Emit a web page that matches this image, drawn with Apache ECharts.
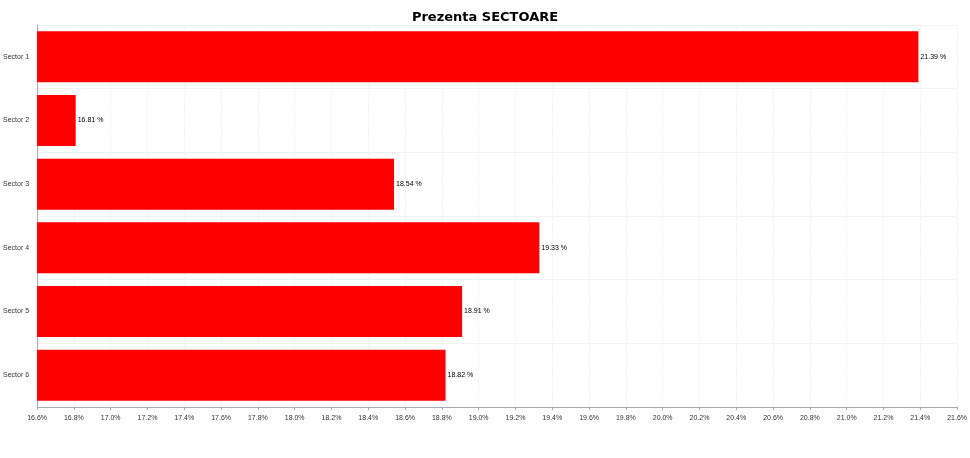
<!DOCTYPE html><html><head><meta charset="utf-8"><script src="https://cdn.jsdelivr.net/npm/echarts@6/dist/echarts.min.js"></script></head><body style="margin:0"><div id="c" style="width:970px;height:458px"></div><script>
const categories=["Sector 1","Sector 2","Sector 3","Sector 4","Sector 5","Sector 6"];
const values=[21.39,16.81,18.54,19.33,18.91,18.82];
const ch=echarts.init(document.getElementById('c'));
ch.setOption({animation:false,
title:{text:'Prezenta SECTOARE',left:'center',top:6,textStyle:{fontSize:13,fontWeight:'bold',color:'#000',fontFamily:'DejaVu Sans'}},
grid:{left:32,right:11,top:25,bottom:51},
xAxis:{type:'value',min:16.6,max:21.6,interval:0.2,axisLabel:{fontSize:7,color:'#333',formatter:v=>v.toFixed(1)+'%'},axisLine:{show:true,lineStyle:{color:'#aaa'}},axisTick:{show:true,length:3},splitLine:{lineStyle:{color:'#f2f2f2',type:'dashed'}}},
yAxis:{type:'category',inverse:true,data:categories,axisLabel:{fontSize:7,color:'#333'},axisLine:{lineStyle:{color:'#aaa'}},axisTick:{alignWithLabel:true,length:3},splitLine:{show:true,lineStyle:{color:'#f2f2f2'}}},
series:[{type:'bar',data:values,barCategoryGap:'20%',itemStyle:{color:'#ff0000'},label:{show:true,position:'right',distance:2,fontSize:7,color:'#000',formatter:p=>p.value.toFixed(2)+' %'}}]});
</script></body></html>
